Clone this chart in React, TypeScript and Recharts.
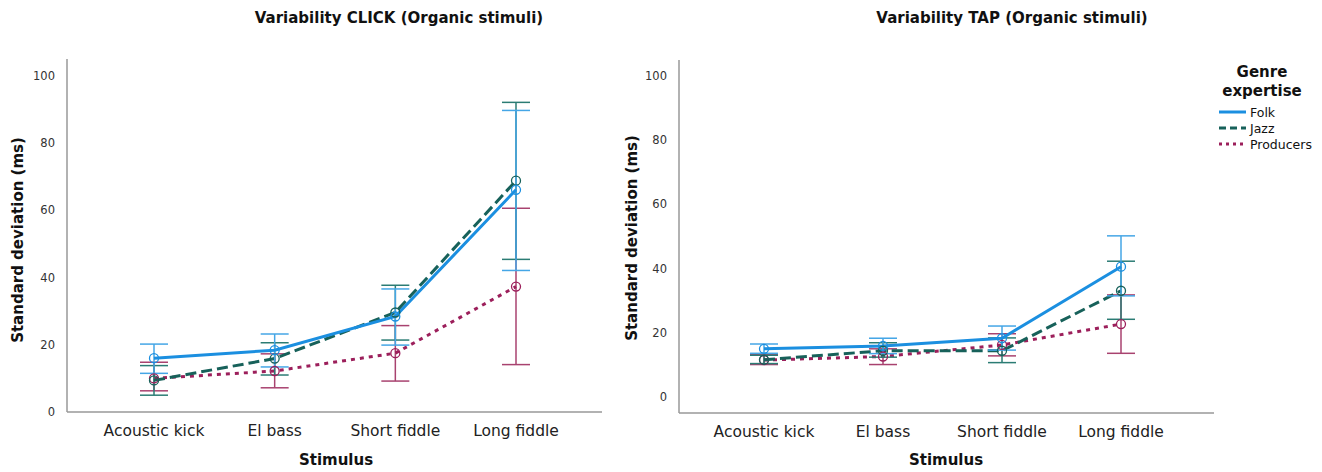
import React from 'react'
import { LineChart, Line, XAxis, YAxis, ErrorBar } from 'recharts'

const stimuli = ['Acoustic kick', 'El bass', 'Short fiddle', 'Long fiddle']
const yTicks = [0, 20, 40, 60, 80, 100]

// CLICK: mean SD (ms) with lower / upper error bar ends
const clickFolkMean = [16.0, 18.4, 28.4, 66.1]
const clickFolkLow = [11.5, 13.4, 19.9, 42.1]
const clickFolkHigh = [20.2, 23.2, 36.6, 89.7]
const clickJazzMean = [9.4, 15.9, 29.6, 68.8]
const clickJazzLow = [5.0, 11.0, 21.4, 45.4]
const clickJazzHigh = [13.8, 20.6, 37.7, 92.1]
const clickProdMean = [10.0, 12.2, 17.5, 37.3]
const clickProdLow = [6.3, 7.2, 9.2, 14.1]
const clickProdHigh = [14.8, 17.3, 25.7, 60.6]

// TAP
const tapFolkMean = [15.0, 15.9, 18.3, 40.6]
const tapFolkLow = [13.6, 13.5, 14.6, 31.5]
const tapFolkHigh = [16.5, 18.3, 22.1, 50.2]
const tapJazzMean = [11.6, 14.4, 14.4, 33.1]
const tapJazzLow = [10.4, 12.4, 10.7, 24.2]
const tapJazzHigh = [13.0, 16.9, 18.4, 42.3]
const tapProdMean = [11.5, 12.6, 16.2, 22.7]
const tapProdLow = [10.1, 10.1, 12.8, 13.6]
const tapProdHigh = [13.2, 15.0, 19.7, 31.8]

const FOLK = '#1b8fe0'
const JAZZ = '#17615a'
const PROD = '#9c1f5b'
const FOLK_EB = '#45a6e6'
const JAZZ_EB = '#2b7c74'
const PROD_EB = '#a8426f'
const FONT = '"DejaVu Sans", sans-serif'

type S = { mean: number[]; low: number[]; high: number[] }

function buildRows(folk: S, jazz: S, prod: S) {
  return stimuli.map((name, i) => ({
    name,
    folk: folk.mean[i],
    folkErr: [folk.mean[i] - folk.low[i], folk.high[i] - folk.mean[i]],
    jazz: jazz.mean[i],
    jazzErr: [jazz.mean[i] - jazz.low[i], jazz.high[i] - jazz.mean[i]],
    prod: prod.mean[i],
    prodErr: [prod.mean[i] - prod.low[i], prod.high[i] - prod.mean[i]],
  }))
}

const clickData = buildRows(
  { mean: clickFolkMean, low: clickFolkLow, high: clickFolkHigh },
  { mean: clickJazzMean, low: clickJazzLow, high: clickJazzHigh },
  { mean: clickProdMean, low: clickProdLow, high: clickProdHigh },
)
const tapData = buildRows(
  { mean: tapFolkMean, low: tapFolkLow, high: tapFolkHigh },
  { mean: tapJazzMean, low: tapJazzLow, high: tapJazzHigh },
  { mean: tapProdMean, low: tapProdLow, high: tapProdHigh },
)

const dot = (c: string) => ({ r: 4.5, fill: 'none', stroke: c, strokeWidth: 1.3, strokeDasharray: '0' })

function Panel({ data, width, margin, domain, pad }: any) {
  return (
    <LineChart width={width} height={472} data={data} margin={margin}>
      <XAxis
        dataKey="name"
        padding={pad}
        axisLine={{ stroke: '#999', strokeWidth: 1.5 }}
        tickLine={false}
        tickMargin={7}
        height={30}
        tick={{ fontSize: 15.5, fill: '#222', fontFamily: FONT }}
      />
      <YAxis
        type="number"
        domain={domain}
        ticks={yTicks}
        allowDataOverflow
        width={30}
        axisLine={{ stroke: '#999', strokeWidth: 1.5 }}
        tickLine={false}
        tickMargin={6}
        tick={{ fontSize: 11.5, fill: '#333', fontFamily: FONT }}
      />
      <Line dataKey="prod" stroke={PROD} strokeWidth={3} strokeDasharray="4 5" dot={dot(PROD)} isAnimationActive={false}>
        <ErrorBar dataKey="prodErr" direction="y" width={14} stroke={PROD_EB} strokeWidth={1.5} isAnimationActive={false} />
      </Line>
      <Line dataKey="jazz" stroke={JAZZ} strokeWidth={3} strokeDasharray="11 5" dot={dot(JAZZ)} isAnimationActive={false}>
        <ErrorBar dataKey="jazzErr" direction="y" width={14} stroke={JAZZ_EB} strokeWidth={1.5} isAnimationActive={false} />
      </Line>
      <Line dataKey="folk" stroke={FOLK} strokeWidth={3} dot={dot(FOLK)} isAnimationActive={false}>
        <ErrorBar dataKey="folkErr" direction="y" width={14} stroke={FOLK_EB} strokeWidth={1.5} isAnimationActive={false} />
      </Line>
    </LineChart>
  )
}

const abs = (style: React.CSSProperties): React.CSSProperties => ({ position: 'absolute', fontFamily: FONT, color: '#111', whiteSpace: 'nowrap', ...style })

const legendItems = [
  { label: 'Folk', color: FOLK, dash: undefined },
  { label: 'Jazz', color: JAZZ, dash: '7 4' },
  { label: 'Producers', color: PROD, dash: '3 4' },
]

export default function App() {
  return (
    <div style={{ position: 'absolute', left: 0, top: 0, width: 1322, height: 472, background: '#fff' }}>
      <div style={{ position: 'absolute', left: 0, top: 0 }}>
        <Panel
          data={clickData}
          width={640}
          domain={[0, 105]}
          margin={{ top: 59, right: 38, bottom: 30, left: 37 }}
          pad={{ left: 87, right: 86 }}
        />
      </div>
      <div style={{ position: 'absolute', left: 640, top: 0 }}>
        <Panel
          data={tapData}
          width={682}
          domain={[-5, 105]}
          margin={{ top: 60, right: 108, bottom: 29, left: 9 }}
          pad={{ left: 85, right: 93 }}
        />
      </div>

      <div style={abs({ left: 399, top: 18, transform: 'translate(-50%, -50%)', fontWeight: 'bold', fontSize: 15 })}>
        Variability CLICK (Organic stimuli)
      </div>
      <div style={abs({ left: 1012, top: 18, transform: 'translate(-50%, -50%)', fontWeight: 'bold', fontSize: 15 })}>
        Variability TAP (Organic stimuli)
      </div>

      <div style={abs({ left: 18, top: 240, transform: 'translate(-50%, -50%) rotate(-90deg)', fontWeight: 'bold', fontSize: 15 })}>
        Standard deviation (ms)
      </div>
      <div style={abs({ left: 632, top: 238, transform: 'translate(-50%, -50%) rotate(-90deg)', fontWeight: 'bold', fontSize: 15 })}>
        Standard deviation (ms)
      </div>

      <div style={abs({ left: 336, top: 460, transform: 'translate(-50%, -50%)', fontWeight: 'bold', fontSize: 15 })}>
        Stimulus
      </div>
      <div style={abs({ left: 946, top: 460, transform: 'translate(-50%, -50%)', fontWeight: 'bold', fontSize: 15 })}>
        Stimulus
      </div>

      <div style={abs({ left: 1262, top: 82, transform: 'translate(-50%, -50%)', fontWeight: 'bold', fontSize: 15, textAlign: 'center', lineHeight: '19px' })}>
        Genre<br />expertise
      </div>
      {legendItems.map((it, i) => (
        <div key={it.label} style={abs({ left: 1219, top: 104 + i * 16, height: 16, display: 'flex', alignItems: 'center', fontSize: 12.5 })}>
          <svg width={28} height={8} style={{ marginRight: 3 }}>
            <line x1={0} y1={4} x2={27} y2={4} stroke={it.color} strokeWidth={3} strokeDasharray={it.dash} />
          </svg>
          {it.label}
        </div>
      ))}
    </div>
  )
}
